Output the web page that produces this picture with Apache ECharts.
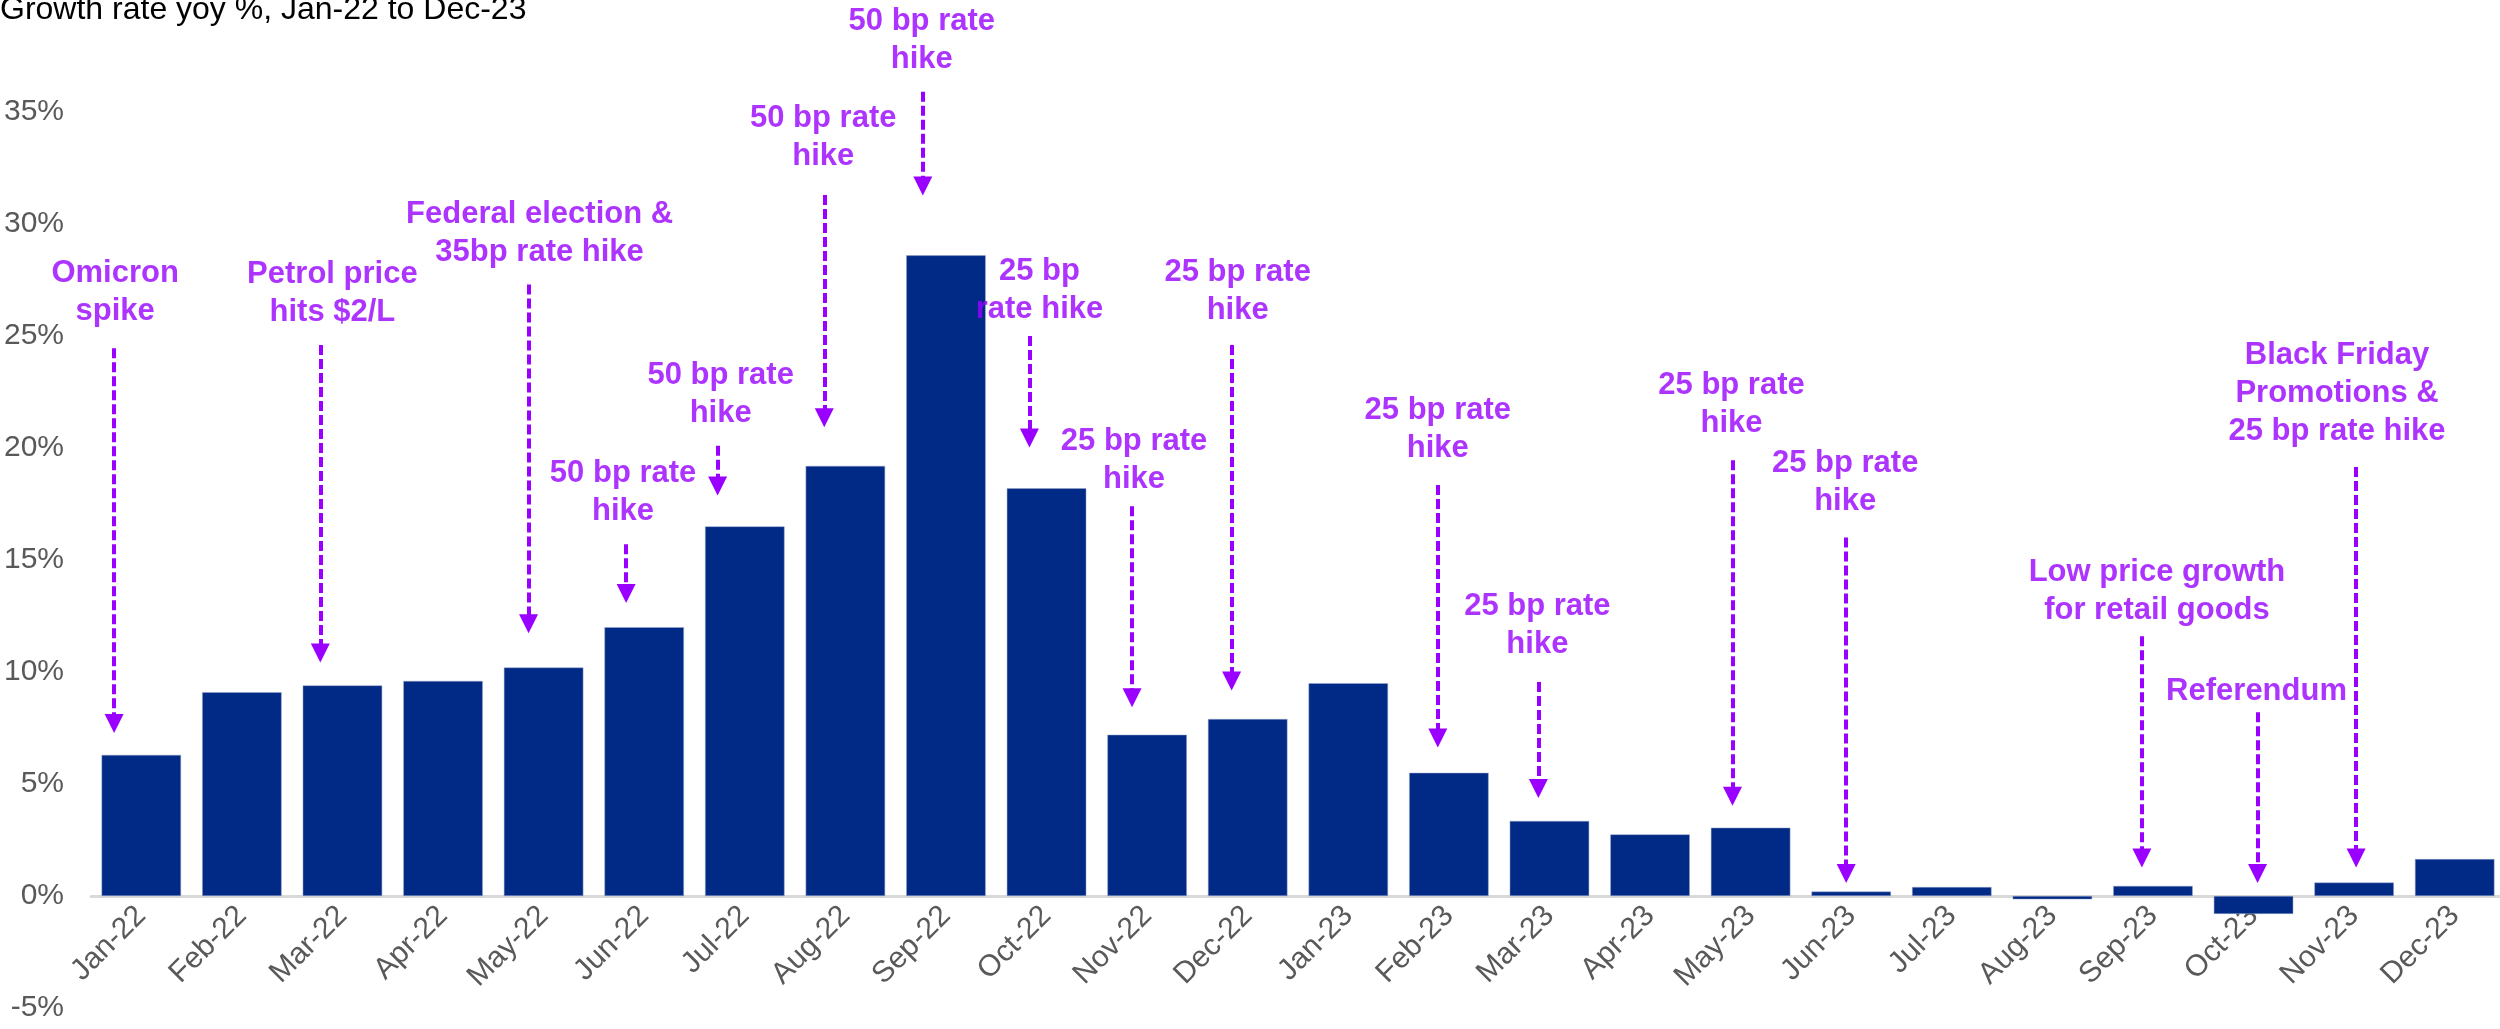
<!DOCTYPE html>
<html>
<head>
<meta charset="utf-8">
<script src="https://cdn.jsdelivr.net/npm/echarts@6/dist/echarts.min.js"></script>
<style>
  html, body { margin: 0; padding: 0; background: #fff; }
  #main { width: 2500px; height: 1029px; }
</style>
</head>
<body>
<div id="main"></div>
<script>
var months = ['Jan-22', 'Feb-22', 'Mar-22', 'Apr-22', 'May-22', 'Jun-22', 'Jul-22', 'Aug-22',
  'Sep-22', 'Oct-22', 'Nov-22', 'Dec-22', 'Jan-23', 'Feb-23', 'Mar-23', 'Apr-23',
  'May-23', 'Jun-23', 'Jul-23', 'Aug-23', 'Sep-23', 'Oct-23', 'Nov-23', 'Dec-23'];
var growth = [6.3, 9.1, 9.4, 9.6, 10.2, 12.0, 16.5, 19.2, 28.6, 18.2, 7.2, 7.9,
  9.5, 5.5, 3.35, 2.75, 3.05, 0.2, 0.4, -0.15, 0.45, -0.8, 0.6, 1.65];

// annotation text, and where it sits (category index, % value)
var noteText = [
  'Omicron\nspike', 'Petrol price\nhits $2/L', 'Federal election &\n35bp rate hike',
  '50 bp rate\nhike', '50 bp rate\nhike', '50 bp rate\nhike', '50 bp rate\nhike',
  '25 bp\nrate hike', '25 bp rate\nhike', '25 bp rate\nhike', '25 bp rate\nhike',
  '25 bp rate\nhike', '25 bp rate\nhike', '25 bp rate\nhike',
  'Low price growth\nfor retail goods', 'Referendum',
  'Black Friday\nPromotions &\n25 bp rate hike'
];
var noteX = [-0.26, 1.9, 3.96, 4.79, 5.76, 6.78, 7.76, 8.93, 9.87, 10.9, 12.89, 13.88, 15.81, 16.94, 20.04, 21.03, 21.83];
var noteY = [26.95, 26.9, 29.6, 18.0, 22.4, 33.85, 38.2, 27.05, 19.45, 27.0, 20.85, 12.1, 21.95, 18.45, 13.6, 9.15, 22.45];

// dashed arrows: category index, start %, tip %
var arrowX = [-0.27, 1.78, 3.85, 4.82, 5.73, 6.79, 7.77, 8.83, 9.85, 10.84, 12.89, 13.89, 15.82, 16.95, 19.89, 21.04, 22.02];
var arrowFrom = [24.45, 24.6, 27.3, 15.7, 20.1, 31.3, 35.9, 25.0, 17.4, 24.6, 18.35, 9.55, 19.45, 16.0, 11.6, 8.2, 19.15];
var arrowTo = [7.7, 10.85, 12.15, 13.5, 18.3, 21.35, 31.7, 20.45, 8.85, 9.6, 7.05, 4.8, 4.45, 1.0, 1.7, 1.0, 1.7];

var purple = '#9900ff';
var grey = '#595959';

var arrows = arrowX.map(function (x, i) {
  return { coords: [[x, arrowFrom[i]], [x, arrowTo[i]]] };
});
var notes = noteText.map(function (t, i) {
  return { name: t, value: [noteX[i], noteY[i]] };
});

var chart = echarts.init(document.getElementById('main'));
chart.setOption({
  animation: false,
  title: {
    text: 'Growth rate yoy %, Jan-22 to Dec-23',
    left: 0,
    top: -6,
    padding: 0,
    textStyle: { fontFamily: 'Liberation Sans', fontSize: 32, fontWeight: 'normal', color: '#000' }
  },
  grid: { left: 91, right: -5, top: 112, bottom: 21, outerBoundsMode: 'none' },
  xAxis: [{
    type: 'category',
    data: months,
    // sit the axis on the 0% line (5% above the bottom of the grid)
    offset: -112,
    axisLine: { onZero: false, lineStyle: { color: '#d9d9d9', width: 3 } },
    axisTick: { length: 10, lineStyle: { color: '#d9d9d9', width: 2 } },
    axisLabel: { rotate: 45, margin: 15, color: grey, fontSize: 30, fontFamily: 'Liberation Sans' }
  }, {
    type: 'value',
    min: -0.5,
    max: 23.5,
    show: false
  }],
  yAxis: {
    type: 'value',
    min: -5,
    max: 35,
    interval: 5,
    splitLine: { show: false },
    axisLine: { show: false },
    axisTick: { show: false },
    axisLabel: { formatter: '{value}%', margin: 27, color: grey, fontSize: 30, fontFamily: 'Liberation Sans' }
  },
  series: [{
    type: 'bar',
    data: growth,
    barCategoryGap: '21%',
    itemStyle: { color: '#012a87', borderColor: '#9aa6c8', borderWidth: 0.5 },
    silent: true
  }, {
    type: 'lines',
    coordinateSystem: 'cartesian2d',
    xAxisIndex: 1,
    clip: false,
    silent: true,
    symbol: ['none', 'triangle'],
    symbolSize: [0, 19],
    lineStyle: { color: purple, width: 4, type: [10, 4], opacity: 1 },
    data: arrows
  }, {
    type: 'scatter',
    xAxisIndex: 1,
    clip: false,
    silent: true,
    symbolSize: 1,
    itemStyle: { color: 'transparent' },
    label: {
      show: true,
      position: 'inside',
      formatter: '{b}',
      align: 'center',
      verticalAlign: 'middle',
      color: purple,
      fontFamily: 'Liberation Sans',
      fontWeight: 'bold',
      fontSize: 31,
      lineHeight: 38
    },
    data: notes
  }]
});
</script>
</body>
</html>
